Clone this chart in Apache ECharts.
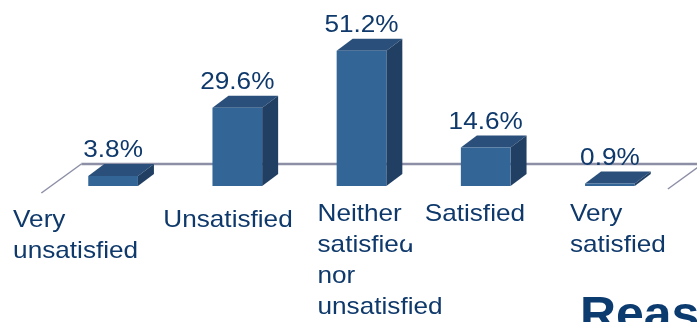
<!DOCTYPE html>
<html>
<head>
<meta charset="utf-8">
<script src="https://cdn.jsdelivr.net/npm/echarts@6/dist/echarts.min.js"></script>
<style>
  html, body { margin: 0; padding: 0; background: #ffffff; }
  #chart { width: 697px; height: 322px; }
</style>
</head>
<body>
<div id="chart"></div>
<script>
// Survey answers and their shares (%)
const categories = ['Very\nunsatisfied', 'Unsatisfied', 'Neither\nsatisfied\nnor\nunsatisfied', 'Satisfied', 'Very\nsatisfied'];
const shares = [3.8, 29.6, 51.2, 14.6, 0.9];

// Category label placement relative to each bar's front centre / baseline
const labelShiftX = [-100, -74, -44, -61, -40];
const labelShiftY = [43, 43, 37, 37, 37];

const FONT = '"Liberation Sans", Arial, sans-serif';
const TEXT = '#0F396B';
const FRONT = '#336697';
const TOP = '#2A4F7A';
const SIDE = '#213F63';
const FLOOR = '#8C8FA6';
const DEPTH_X = 16, DEPTH_Y = -12;
const STRETCH = 1.09;

function renderBar(params, api) {
  const i = api.value(0);
  const v = api.value(1);
  const top = api.coord([i, v]);
  const base = api.coord([i, 0]);
  const w = api.size([1, 0])[0] * 0.4;
  const x0 = top[0] - w / 2, x1 = top[0] + w / 2;
  const yT = top[1], yB = base[1];
  const children = [
    { type: 'polygon', shape: { points: [[x0, yT], [x1, yT], [x1 + DEPTH_X, yT + DEPTH_Y], [x0 + DEPTH_X, yT + DEPTH_Y]] }, style: { fill: TOP } },
    { type: 'polygon', shape: { points: [[x1, yT], [x1 + DEPTH_X, yT + DEPTH_Y], [x1 + DEPTH_X, yB + DEPTH_Y], [x1, yB]] }, style: { fill: SIDE } },
    { type: 'rect', shape: { x: x0, y: yT, width: w, height: yB - yT }, style: { fill: FRONT } },
    {
      type: 'text', x: top[0], y: yT - 25.3, scaleX: STRETCH,
      style: { text: v.toFixed(1) + '%', align: 'center', verticalAlign: 'middle', font: '24px ' + FONT, fill: TEXT }
    }
  ];
  const catStyle = { text: categories[i], align: 'left', verticalAlign: 'top', font: '24px ' + FONT, lineHeight: 31, fill: TEXT };
  let cx = top[0] + labelShiftX[i];
  if (i === 3) {
    // white label box, overlapping the neighbouring label's second line
    catStyle.backgroundColor = '#ffffff';
    catStyle.padding = [0, 0, 13, 18];
    cx -= 18 * STRETCH;
  }
  children.push({
    type: 'text', x: cx, y: yB + labelShiftY[i] - 8.3 - 15.5, scaleX: STRETCH,
    style: catStyle
  });
  return { type: 'group', children: children };
}

function renderFloor(params, api) {
  const cs = params.coordSys;
  const base = api.coord([0, 0])[1];
  const slope = 40 / 29;
  const back = base - 22, frontL = base + 7, frontR = base + 3;
  const l = cs.x, r = cs.x + cs.width;
  const shift = (base - back) * slope;
  return {
    type: 'group',
    children: [
      { type: 'line', shape: { x1: l + shift, y1: back, x2: r + shift, y2: back }, style: { stroke: FLOOR, lineWidth: 2.5 } },
      { type: 'line', shape: { x1: l + shift, y1: back, x2: l - (frontL - base) * slope, y2: frontL }, style: { stroke: FLOOR, lineWidth: 1.5 } },
      { type: 'line', shape: { x1: r + shift, y1: back, x2: r - (frontR - base) * slope, y2: frontR }, style: { stroke: FLOOR, lineWidth: 1.5 } }
    ]
  };
}

const chart = echarts.init(document.getElementById('chart'), null, { renderer: 'canvas' });
chart.setOption({
  animation: false,
  backgroundColor: '#ffffff',
  grid: { left: 51, right: 25, top: 27.6, bottom: 136 },
  xAxis: { type: 'category', data: categories, show: false },
  yAxis: { type: 'value', min: 0, max: 60, show: false },
  graphic: [{
    type: 'text', x: 580, y: 317, z: 10, scaleX: 1.04,
    style: { text: 'Reasons', font: 'bold 48px ' + FONT, fill: '#0C3B70', verticalAlign: 'middle' }
  }],
  series: [
    { type: 'custom', name: 'floor', z: 1, data: [[0, 0]], renderItem: renderFloor, silent: true },
    { type: 'custom', name: 'share', z: 2, data: shares.map((v, i) => [i, v]), renderItem: renderBar, encode: { x: 0, y: 1 } }
  ]
});
</script>
</body>
</html>
